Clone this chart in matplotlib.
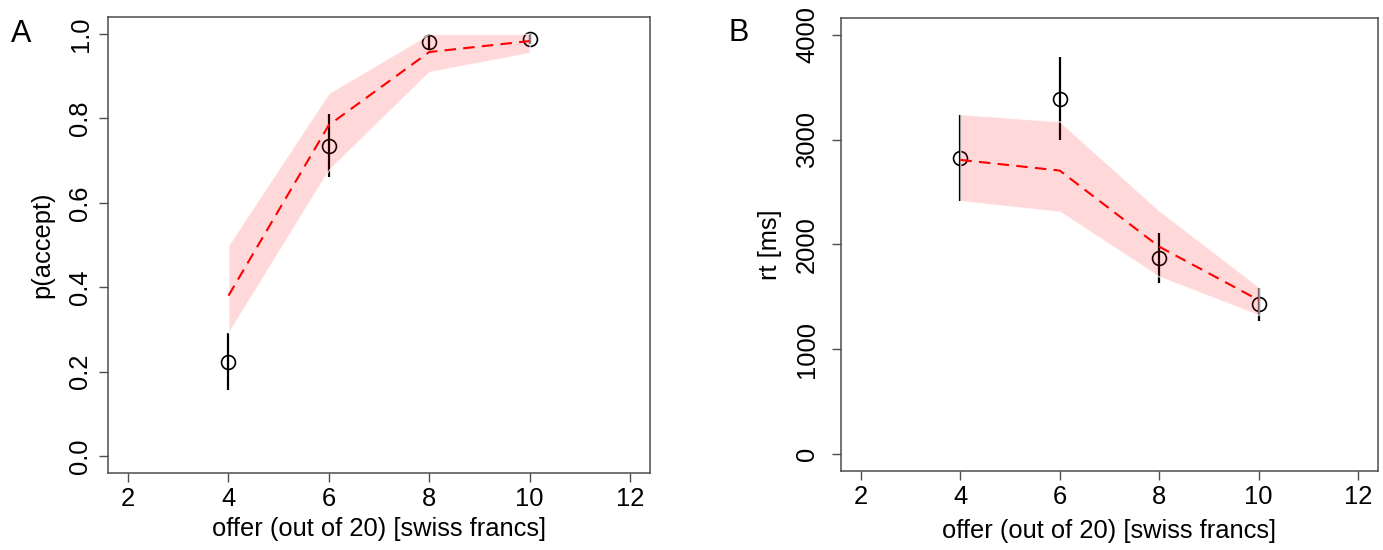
import matplotlib.pyplot as plt
import numpy as np

plt.rcParams["font.family"] = ["Liberation Sans", "DejaVu Sans"]

offer = np.array([4, 6, 8, 10])

# panel A: acceptance probability (observed mean +/- error, model band)
p_obs = np.array([0.223, 0.735, 0.981, 0.987])
p_obs_lo = np.array([0.156, 0.660, 0.963, 0.975])
p_obs_hi = np.array([0.292, 0.811, 1.000, 1.000])
p_model = np.array([0.380, 0.784, 0.957, 0.983])
p_model_lo = np.array([0.292, 0.678, 0.910, 0.955])
p_model_hi = np.array([0.500, 0.860, 1.000, 1.000])

# panel B: response times
rt_obs = np.array([2829, 3392, 1868, 1429])
rt_obs_lo = np.array([2415, 2995, 1630, 1270])
rt_obs_hi = np.array([3236, 3788, 2107, 1582])
rt_model = np.array([2807, 2705, 1979, 1470])
rt_model_lo = np.array([2415, 2313, 1693, 1327])
rt_model_hi = np.array([3243, 3174, 2323, 1597])

FRAME = "#4d4d4d"
FS = 18.4
PX = 0.72  # points per pixel at 100 dpi


def panel(ax, obs, lo, hi, mod, mod_lo, mod_hi, ylim, yticks, yticklabels,
          ylabel, ypad_px, xlab_y, ylab_x):
    ax.vlines(offer, lo, hi, color="black", lw=1.6, zorder=2)
    ax.plot(offer, obs, "o", mfc="none", mec="black", ms=10, mew=1.2, zorder=3)
    # model band drawn over the bars, white rim like the R polygon
    ax.fill_between(offer, mod_lo, mod_hi, facecolor=(1, 0, 0, 0.15),
                    edgecolor=(1, 1, 1, 0.7), lw=1.0, zorder=4)
    ax.plot(offer, mod, color="red", lw=1.5, ls=(0, (5.5, 3.5)), zorder=5)

    ax.set_xlim(1.6, 12.4)
    ax.set_ylim(*ylim)
    ax.set_xticks([2, 4, 6, 8, 10, 12])
    ax.set_yticks(yticks)
    ax.set_yticklabels(yticklabels)
    ax.tick_params(direction="out", length=9 * PX, width=1, color=FRAME,
                   labelsize=FS)
    ax.tick_params(axis="x", pad=17 * PX)
    ax.tick_params(axis="y", pad=ypad_px * PX)
    for lab in ax.get_xticklabels():
        lab.set_va("center")
    for lab in ax.get_yticklabels():
        lab.set_rotation(90)
        lab.set_va("center")
        lab.set_ha("center")
    for s in ax.spines.values():
        s.set_color(FRAME)
        s.set_linewidth(1.1)

    ax.set_xlabel("offer (out of 20) [swiss francs]", fontsize=FS, va="center")
    ax.xaxis.set_label_coords(0.5, xlab_y)
    ax.set_ylabel(ylabel, fontsize=FS, va="center")
    ax.yaxis.set_label_coords(ylab_x, 0.5)


fig = plt.figure(figsize=(13.83, 5.5), dpi=100)
ax_a = fig.add_axes([108 / 1383, 1 - 473 / 550, 542 / 1383, 456 / 550])
ax_b = fig.add_axes([841 / 1383, 1 - 471 / 550, 537 / 1383, 453 / 550])

panel(ax_a, p_obs, p_obs_lo, p_obs_hi, p_model, p_model_lo, p_model_hi,
      (-0.04, 1.04), [0.0, 0.2, 0.4, 0.6, 0.8, 1.0],
      ["0.0", "0.2", "0.4", "0.6", "0.8", "1.0"], "p(accept)",
      18.5, -56 / 456, -65.5 / 542)

panel(ax_b, rt_obs, rt_obs_lo, rt_obs_hi, rt_model, rt_model_lo, rt_model_hi,
      (-160, 4160), [0, 1000, 2000, 3000, 4000],
      ["0", "1000", "2000", "3000", "4000"], "rt [ms]",
      25, -60 / 453, -71 / 537)

fig.text(21 / 1383, 1 - 34 / 550, "A", fontsize=22, ha="center", va="center")
fig.text(739 / 1383, 1 - 33 / 550, "B", fontsize=22, ha="center", va="center")

fig.savefig("out.png", dpi=100)
